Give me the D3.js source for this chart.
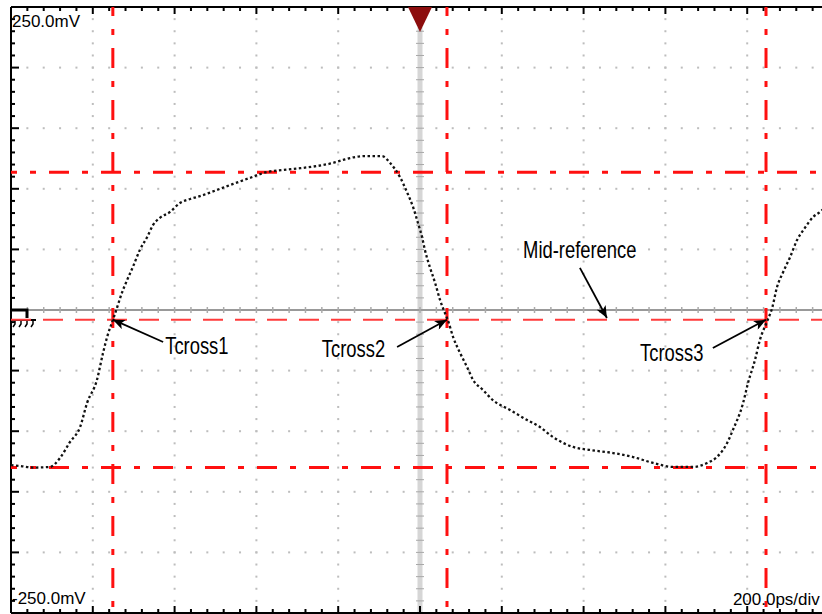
<!DOCTYPE html>
<html>
<head>
<meta charset="utf-8">
<script src="https://cdn.jsdelivr.net/npm/d3@7"></script>
<style>
  html, body { margin: 0; padding: 0; background: #fff; }
  svg { display: block; }
</style>
</head>
<body>
<svg id="chart" width="822" height="614"></svg>
<script>
// ---------- data ----------
const timePs = [-1000, -978, -946, -905, -880, -856, -831, -814, -790, -775, -765, -751, -741, -729, -716, -702, -685, -667, -653, -636, -611, -587, -562, -538, -477, -416, -374, -335, -293, -252, -213, -188, -171, -130, -93, -73, -49, -32, -17, -5, 5, 12, 24, 37, 49, 61, 68, 81, 98, 115, 130, 154, 178, 220, 262, 293, 325, 374, 416, 472, 521, 570, 619, 668, 702, 726, 751, 765, 790, 802, 819, 831, 848, 861, 873, 888, 905, 922, 941, 961, 978, 995];
const voltageMv = [-128, -128.7, -130, -129.5, -122, -109, -96.5, -76.7, -57.8, -35.5, -22.3, -8.3, 1.7, 14, 24.8, 35.5, 49.5, 60.2, 70, 76, 80.9, 88.3, 91.6, 94, 101.5, 109, 113.9, 115.5, 117, 118.8, 121.3, 123.8, 125.4, 127, 127, 121.3, 109.7, 97.4, 85, 71.8, 60.2, 49.5, 35.5, 22.3, 8.3, -2.5, -8.3, -22.3, -35.5, -47, -57.8, -66, -74.3, -82.5, -90.8, -96.5, -104.8, -113, -115.5, -118, -121.3, -126.2, -129.5, -129.5, -126.2, -121.3, -109.7, -99, -76.7, -60.2, -41.3, -24.8, -9.9, 1.7, 19, 31.4, 43.7, 57.8, 67.7, 76.7, 80.9, 86];

const timeDomain = [-1000, 1000];      // ps, 200 ps/div
const voltDomain = [-250, 250];        // mV
const cursorTimes = [-751, 66, 846];   // Tcross cursors (ps)
const cursorLevels = [113.6, -130];    // high / low level cursors (mV)
const midReference = -8;               // mV

const scaleLabels = ["250.0mV", "-250.0mV", "200.0ps/div"];

const annoText   = ["Tcross1", "Tcross2", "Tcross3", "Mid-reference"];
const annoTextT  = [-623, -240, 538, 252];
const annoTextV  = [-36, -39, -42, 42.9];
const annoFromT  = [-628, -56, 716, 391];
const annoFromV  = [-26.4, -30.5, -31.4, 34.7];
const annoTipT   = [-751, 66, 846, 457];
const annoTipV   = [-8, -8, -8, -6.6];

// ---------- drawing ----------
const svg = d3.select("#chart");
const W = 822;
const x = d3.scaleLinear().domain(timeDomain).range([11, 829]);
const y = d3.scaleLinear().domain(voltDomain).range([613, 7]);

const xMajor = d3.range(timeDomain[0], timeDomain[1] + 1, 200);
const xMinor = d3.range(timeDomain[0], timeDomain[1] + 1, 40);
const yMajor = d3.range(voltDomain[0], voltDomain[1] + 1, 50);
const yMinor = d3.range(voltDomain[0], voltDomain[1] + 1, 10);

const gGrid = svg.append("g");
// dotted vertical grid lines
xMajor.filter(t => t !== 0 && t !== timeDomain[0]).forEach(t => {
  gGrid.selectAll(null).data(yMinor.filter(v => v !== voltDomain[0] && v !== voltDomain[1]))
    .join("rect")
    .attr("x", x(t) - 1).attr("y", v => y(v) - 1)
    .attr("width", 2).attr("height", 2).attr("fill", "#bdbdbd");
});
// dotted horizontal grid lines
yMajor.filter(v => v !== 0 && v !== voltDomain[0] && v !== voltDomain[1]).forEach(v => {
  gGrid.selectAll(null).data(xMinor.filter(t => t !== timeDomain[0]))
    .join("rect")
    .attr("x", t => x(t) - 1).attr("y", y(v) - 1)
    .attr("width", 2).attr("height", 2).attr("fill", "#bdbdbd");
});

// center vertical (trigger) band
gGrid.append("rect")
  .attr("x", x(0) - 2.5).attr("y", y(voltDomain[1]) + 20)
  .attr("width", 5).attr("height", y(voltDomain[0]) - y(voltDomain[1]) - 20)
  .attr("fill", "#d6d6d6");
gGrid.selectAll(null).data(yMinor.filter(v => v < 240))
  .join("line")
  .attr("x1", x(0) - 4).attr("x2", x(0) + 4)
  .attr("y1", v => y(v)).attr("y2", v => y(v))
  .attr("stroke", "#a8a8a8").attr("stroke-width", 1);

// center horizontal line
gGrid.append("line")
  .attr("x1", x(timeDomain[0])).attr("x2", W)
  .attr("y1", y(0)).attr("y2", y(0))
  .attr("stroke", "#999").attr("stroke-width", 2);
gGrid.selectAll(null).data(xMinor.filter(t => t !== timeDomain[0]))
  .join("line")
  .attr("x1", t => x(t)).attr("x2", t => x(t))
  .attr("y1", y(0) - 3).attr("y2", y(0) + 3)
  .attr("stroke", "#aaa").attr("stroke-width", 1.5);

// borders
const gB = svg.append("g").attr("stroke", "#000");
gB.append("line").attr("x1", x(timeDomain[0])).attr("x2", W)
  .attr("y1", y(voltDomain[1])).attr("y2", y(voltDomain[1])).attr("stroke-width", 2);
gB.append("line").attr("x1", x(timeDomain[0])).attr("x2", W)
  .attr("y1", y(voltDomain[0])).attr("y2", y(voltDomain[0])).attr("stroke-width", 2);
gB.append("line").attr("x1", x(timeDomain[0])).attr("x2", x(timeDomain[0]))
  .attr("y1", y(voltDomain[1])).attr("y2", y(voltDomain[0])).attr("stroke-width", 2);
const isMajT = t => xMajor.includes(t);
const isMajV = v => yMajor.includes(v);
gB.selectAll(null).data(xMinor.filter(t => t !== timeDomain[0]))
  .join("line")
  .attr("x1", t => x(t)).attr("x2", t => x(t))
  .attr("y1", y(voltDomain[1])).attr("y2", t => y(voltDomain[1]) + (isMajT(t) ? 7 : 4))
  .attr("stroke-width", 2);
gB.selectAll(null).data(xMinor.filter(t => t !== timeDomain[0]))
  .join("line")
  .attr("x1", t => x(t)).attr("x2", t => x(t))
  .attr("y1", y(voltDomain[0])).attr("y2", t => y(voltDomain[0]) - (isMajT(t) ? 7 : 4))
  .attr("stroke-width", 2);
gB.selectAll(null).data(yMinor.filter(v => v !== voltDomain[0] && v !== voltDomain[1]))
  .join("line")
  .attr("x1", x(timeDomain[0])).attr("x2", v => x(timeDomain[0]) + (isMajV(v) ? 8 : 4))
  .attr("y1", v => y(v)).attr("y2", v => y(v))
  .attr("stroke-width", 2);

// ground marker
const gx = x(timeDomain[0]);
const gg = svg.append("g").attr("stroke", "#000").attr("fill", "none");
gg.append("path").attr("d", `M${gx},${y(0)} H${gx + 16} V${y(0) + 8}`).attr("stroke-width", 3);
gg.append("path").attr("d", `M${gx + 1},${y(0) + 10} H${gx + 25}`).attr("stroke-width", 2);
[4, 10, 16, 22].forEach(d => {
  gg.append("path").attr("d", `M${gx + d},${y(0) + 10} v4 l-2,3`).attr("stroke-width", 1.5);
});

// red cursors
const gC = svg.append("g").attr("stroke", "#ff1010").attr("fill", "none");
gC.selectAll(null).data(cursorTimes).join("line")
  .attr("x1", t => x(t)).attr("x2", t => x(t))
  .attr("y1", y(voltDomain[1])).attr("y2", y(voltDomain[0]))
  .attr("stroke-width", 3).attr("stroke-dasharray", "20,13,6,13").attr("stroke-dashoffset", 11);
gC.selectAll(null).data(cursorLevels).join("line")
  .attr("x1", x(timeDomain[0])).attr("x2", W)
  .attr("y1", v => y(v)).attr("y2", v => y(v))
  .attr("stroke-width", 3).attr("stroke-dasharray", "20,13,6,13").attr("stroke-dashoffset", 14);
gC.append("line")
  .attr("x1", x(timeDomain[0])).attr("x2", W)
  .attr("y1", y(midReference)).attr("y2", y(midReference))
  .attr("stroke", "#ff3b3b")
  .attr("stroke-width", 2).attr("stroke-dasharray", "20,12");

// trace
const pts = timePs.map((t, i) => [t, voltageMv[i]]);
const line = d3.line().x(d => x(d[0])).y(d => y(d[1])).curve(d3.curveMonotoneX);
svg.append("path").attr("d", line(pts))
  .attr("fill", "none").attr("stroke", "#111")
  .attr("stroke-width", 2.3).attr("stroke-dasharray", "2.5,2.5");

// annotations
const defs = svg.append("defs");
defs.append("marker").attr("id", "arr")
  .attr("viewBox", "0 0 12 10").attr("refX", 12).attr("refY", 5)
  .attr("markerWidth", 13).attr("markerHeight", 10)
  .attr("markerUnits", "userSpaceOnUse").attr("orient", "auto")
  .append("path").attr("d", "M0,0 L12,5 L0,10 L3,5 Z").attr("fill", "#000");
const gA = svg.append("g");
annoText.forEach((txt, i) => {
  gA.append("line")
    .attr("x1", x(annoFromT[i])).attr("y1", y(annoFromV[i]))
    .attr("x2", x(annoTipT[i])).attr("y2", y(annoTipV[i]))
    .attr("stroke", "#000").attr("stroke-width", 1.8)
    .attr("marker-end", "url(#arr)");
  gA.append("text")
    .attr("transform", `translate(${x(annoTextT[i])},${y(annoTextV[i])}) scale(0.8,1)`)
    .attr("font-family", "'Liberation Sans', Arial, sans-serif")
    .attr("font-size", 23).attr("fill", "#000")
    .text(txt);
});

// scale labels
const lf = "'Liberation Sans', Arial, sans-serif";
svg.append("text").attr("x", x(timeDomain[0]) + 1).attr("y", y(voltDomain[1]) + 20)
  .attr("font-family", lf).attr("font-size", 17).text(scaleLabels[0]);
svg.append("text").attr("x", x(timeDomain[0]) + 1).attr("y", y(voltDomain[0]) - 9)
  .attr("font-family", lf).attr("font-size", 17).text(scaleLabels[1]);
svg.append("text").attr("x", x(765)).attr("y", y(voltDomain[0]) - 8)
  .attr("font-family", lf).attr("font-size", 17).text(scaleLabels[2]);

// trigger marker
const tx = x(0), ty = y(voltDomain[1]);
svg.append("path")
  .attr("d", `M${tx - 12},${ty} L${tx + 12},${ty} L${tx},${ty + 25} Z`)
  .attr("fill", "#8c0d0d");
</script>
</body>
</html>
